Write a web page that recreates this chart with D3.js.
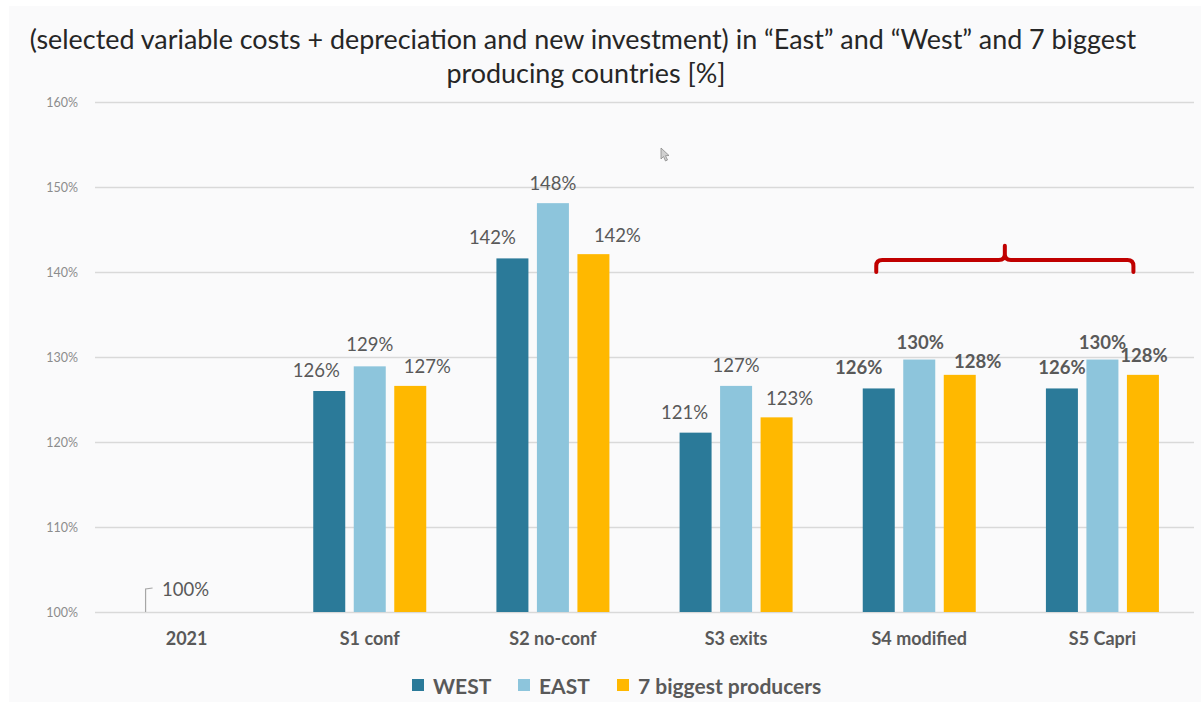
<!DOCTYPE html>
<html>
<head>
<meta charset="utf-8">
<script src="https://cdn.jsdelivr.net/npm/d3@7"></script>
<style>
  html, body { margin: 0; padding: 0; background: #ffffff; }
  svg { display: block; font-family: Lato, "Open Sans", "DejaVu Sans", sans-serif; }
</style>
</head>
<body>
<svg id="chart" width="1201" height="702"></svg>
<script>
// ---- data ----
const categories = ["2021", "S1 conf", "S2 no-conf", "S3 exits", "S4 modified", "S5 Capri"];
const seriesNames = ["WEST", "EAST", "7 biggest producers"];
const westValues = [100, 126.0, 141.6, 121.1, 126.3, 126.3];
const eastValues = [100, 128.9, 148.1, 126.6, 129.7, 129.7];
const bigSevenValues = [100, 126.6, 142.1, 122.9, 127.9, 127.9];
const yTicks = [100, 110, 120, 130, 140, 150, 160];
const titleLines = [
  "(selected variable costs + depreciation and new investment) in \u201cEast\u201d and \u201cWest\u201d and 7 biggest",
  "producing countries [%]"
];
const highlighted = ["S4 modified", "S5 Capri"];

// ---- presentation ----
const colors = { "WEST": "#2b7a99", "EAST": "#8dc5dc", "7 biggest producers": "#ffb800" };
// hand-placed data labels: [dx from bar centre, height of label centre above bar top]
const labelShift = {
  "WEST":                [[0, 0], [-13, 21], [-20, 21], [-11, 21], [-20, 21], [0, 21]],
  "EAST":                [[0, 0], [0, 22],   [0, 20],   [0, 21],   [1, 18],   [0, 18]],
  "7 biggest producers": [[0, 0], [17, 20],  [24, 19],  [13, 19],  [18, 14],  [1, 20]]
};
const legendX = [412, 518, 617];

const seriesValues = { "WEST": westValues, "EAST": eastValues, "7 biggest producers": bigSevenValues };

const svg = d3.select("#chart");
const W = 1201, H = 702;

// slide background
svg.append("rect").attr("x", 0).attr("y", 0).attr("width", W).attr("height", H).attr("fill", "#ffffff");
svg.append("rect").attr("x", 9).attr("y", 6).attr("width", W - 9).attr("height", H - 6).attr("fill", "#fafafb");

// ---- scales ----
const x = d3.scaleBand().domain(categories).range([95, 1194]).padding(0);
const groupWidth = 113;
const xInner = d3.scaleBand().domain(seriesNames).range([0, groupWidth]).paddingInner(0.21).paddingOuter(0);
const y = d3.scaleLinear().domain([100, 160]).range([612, 102]);
const groupLeft = c => x(c) + (x.bandwidth() - groupWidth) / 2;
const centre = c => x(c) + x.bandwidth() / 2;

// ---- title ----
const title = svg.append("g").attr("fill", "#262626");
const t1 = title.append("text").attr("x", 583).attr("y", 38)
  .attr("text-anchor", "middle").attr("dominant-baseline", "central")
  .attr("font-size", 26).text(titleLines[0]);
const fitSize = 26 * 1107 / t1.node().getComputedTextLength();
t1.attr("font-size", fitSize);
title.append("text").attr("x", 586).attr("y", 72)
  .attr("text-anchor", "middle").attr("dominant-baseline", "central")
  .attr("font-size", fitSize).text(titleLines[1]);

// ---- grid + y axis ----
const yAxis = d3.axisLeft(y).tickValues(yTicks).tickSize(-(1194 - 95)).tickPadding(17)
  .tickFormat(d => d + "%");
const gy = svg.append("g").attr("transform", "translate(95,0)").call(yAxis);
gy.select(".domain").remove();
gy.selectAll(".tick line").attr("stroke", "#d9d9d9").attr("stroke-width", 1.3);
gy.selectAll(".tick text").attr("fill", "#8c8c8c").attr("font-size", 12.5)
  .attr("font-family", "Lato, 'Open Sans', sans-serif");

// ---- x axis labels ----
const xAxis = d3.axisBottom(x).tickSize(0).tickPadding(20);
const gx = svg.append("g").attr("transform", "translate(0,612)").call(xAxis);
gx.select(".domain").remove();
gx.selectAll(".tick text").attr("fill", "#595959").attr("font-size", 18).attr("font-weight", 700)
  .attr("font-family", "Lato, 'Open Sans', sans-serif");

// ---- bars ----
const rows = [];
seriesNames.forEach(s => {
  seriesValues[s].forEach((v, i) => rows.push({ series: s, cat: categories[i], i, value: v }));
});

svg.append("g").selectAll("rect")
  .data(rows.filter(d => d.value > 100))
  .join("rect")
  .attr("x", d => groupLeft(d.cat) + xInner(d.series))
  .attr("y", d => y(d.value))
  .attr("width", xInner.bandwidth())
  .attr("height", d => y(100) - y(d.value))
  .attr("fill", d => colors[d.series]);

// ---- data labels ----
svg.append("g").selectAll("text")
  .data(rows.filter(d => d.value > 100))
  .join("text")
  .attr("x", d => groupLeft(d.cat) + xInner(d.series) + xInner.bandwidth() / 2 + labelShift[d.series][d.i][0])
  .attr("y", d => y(d.value) - labelShift[d.series][d.i][1])
  .attr("text-anchor", "middle").attr("dominant-baseline", "central")
  .attr("font-size", 18.5)
  .attr("font-weight", d => highlighted.includes(d.cat) ? 700 : 400)
  .attr("fill", "#595959")
  .text(d => Math.round(d.value) + "%");

// base-year callout: all series sit at 100 %
const baseCat = categories[0];
const baseValue = westValues[0];
const lx = centre(baseCat) - 41;
svg.append("path")
  .attr("d", `M${lx},${y(baseValue)} L${lx},${y(baseValue) - 23} L${lx + 7},${y(baseValue) - 24}`)
  .attr("fill", "none").attr("stroke", "#a6a6a6").attr("stroke-width", 1.2);
svg.append("text")
  .attr("x", centre(baseCat) - 1).attr("y", y(baseValue) - 23)
  .attr("text-anchor", "middle").attr("dominant-baseline", "central")
  .attr("font-size", 18.5).attr("fill", "#595959")
  .text(Math.round(baseValue) + "%");

// ---- red bracket over S4 and S5 ----
const bl = centre(highlighted[0]) - 43;
const br = centre(highlighted[1]) + 31;
const bm = (bl + br) / 2;
const yb = y(140), yt = y(141.4), ytip = y(143.1);
const r = 6;
svg.append("path")
  .attr("d",
    `M${bl},${yb} L${bl},${yt + r} Q${bl},${yt} ${bl + r},${yt} L${bm - r},${yt} Q${bm},${yt} ${bm},${yt - r} L${bm},${ytip}` +
    ` M${bm},${yt - r} Q${bm},${yt} ${bm + r},${yt} L${br - r},${yt} Q${br},${yt} ${br},${yt + r} L${br},${yb}`)
  .attr("fill", "none").attr("stroke", "#c00000").attr("stroke-width", 4)
  .attr("stroke-linecap", "round").attr("stroke-linejoin", "round");

// ---- mouse pointer left on the slide ----
svg.append("path")
  .attr("d", "M661,148 L661,159 L663.5,156.5 L665.5,161 L667.5,160 L665.5,155.7 L669,155.5 Z")
  .attr("fill", "#d0d0d0").attr("stroke", "#8a8a8a").attr("stroke-width", 0.8);

// ---- legend ----
const legend = svg.append("g");
seriesNames.forEach((s, i) => {
  legend.append("rect").attr("x", legendX[i]).attr("y", 679).attr("width", 12).attr("height", 12)
    .attr("fill", colors[s]);
  legend.append("text").attr("x", legendX[i] + 21).attr("y", 685)
    .attr("dominant-baseline", "central").attr("font-size", 21).attr("font-weight", 700)
    .attr("fill", "#595959").text(s);
});
</script>
</body>
</html>
